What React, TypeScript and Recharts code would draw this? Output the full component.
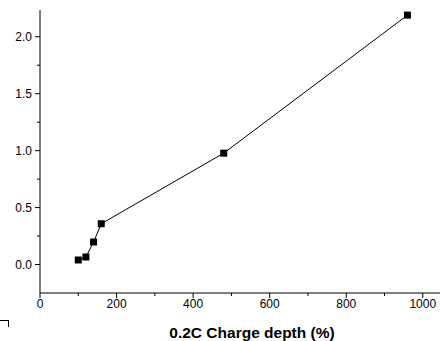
import React from 'react';
import { LineChart, Line, XAxis, YAxis } from 'recharts';

const chargeDepth = [100, 120, 140, 160, 480, 960];
const values = [0.04, 0.066, 0.198, 0.358, 0.978, 2.19];
const xTicks = [0, 100, 200, 300, 400, 500, 600, 700, 800, 900, 1000];
const yTicks = [0, 0.25, 0.5, 0.75, 1.0, 1.25, 1.5, 1.75, 2.0];

const data = chargeDepth.map((d, i) => ({ x: d, y: values[i] }));

const FONT = '"Liberation Sans", Arial, sans-serif';

const YTick = (props: any) => {
  const { x, y, payload } = props;
  const v = payload.value as number;
  const major = Math.abs(v * 2 - Math.round(v * 2)) < 1e-6;
  return (
    <g>
      <line x1={x - (major ? 5 : 3)} x2={x} y1={y} y2={y} stroke="#000" strokeWidth={1} />
      {major && (
        <text x={x - 8} y={y} dy={4} textAnchor="end" fontSize={12} fontFamily={FONT} fill="#000">
          {v.toFixed(1)}
        </text>
      )}
    </g>
  );
};

const XTick = (props: any) => {
  const { x, y, payload } = props;
  const v = payload.value as number;
  const major = v % 200 === 0;
  return (
    <g>
      <line x1={x} x2={x} y1={y} y2={y + (major ? 5 : 3)} stroke="#000" strokeWidth={1} />
      {major && (
        <text x={x} y={y + 15} textAnchor="middle" fontSize={12} fontFamily={FONT} fill="#000">
          {v}
        </text>
      )}
    </g>
  );
};

const SquareDot = (props: any) => {
  const { cx, cy } = props;
  if (cx == null || cy == null) return null;
  return <rect x={cx - 3.5} y={cy - 3.5} width={7} height={7} fill="#000" />;
};

export default function App() {
  return (
    <div style={{ position: 'absolute', left: 0, top: 0, width: 441, height: 341, background: '#fff' }}>
      <LineChart width={441} height={341} data={data} margin={{ top: 10, right: 1, bottom: 0, left: 0 }}>
        <XAxis
          dataKey="x"
          type="number"
          domain={[0, 1045]}
          ticks={xTicks}
          interval={0}
          height={48}
          tickSize={0}
          tickMargin={0}
          tickLine={false}
          tick={<XTick />}
          axisLine={{ stroke: '#000', strokeWidth: 1 }}
          label={{
            value: '0.2C Charge depth (%)',
            position: 'insideBottom',
            offset: 3,
            style: { fontFamily: FONT, fontSize: 15.5, fontWeight: 'bold', fill: '#000' },
            dx: 12,
          }}
        />
        <YAxis
          dataKey="y"
          type="number"
          domain={[-0.25, 2.235]}
          ticks={yTicks}
          interval={0}
          width={40}
          tickSize={0}
          tickMargin={0}
          tickLine={false}
          tick={<YTick />}
          axisLine={{ stroke: '#000', strokeWidth: 1 }}
        />
        <Line
          type="linear"
          dataKey="y"
          stroke="#000"
          strokeWidth={1}
          dot={<SquareDot />}
          activeDot={false}
          isAnimationActive={false}
        />
      </LineChart>
      <div
        style={{
          position: 'absolute',
          left: 0,
          top: 320,
          width: 8,
          height: 6,
          borderTop: '1px solid #000',
          borderRight: '1px solid #000',
        }}
      />
    </div>
  );
}
